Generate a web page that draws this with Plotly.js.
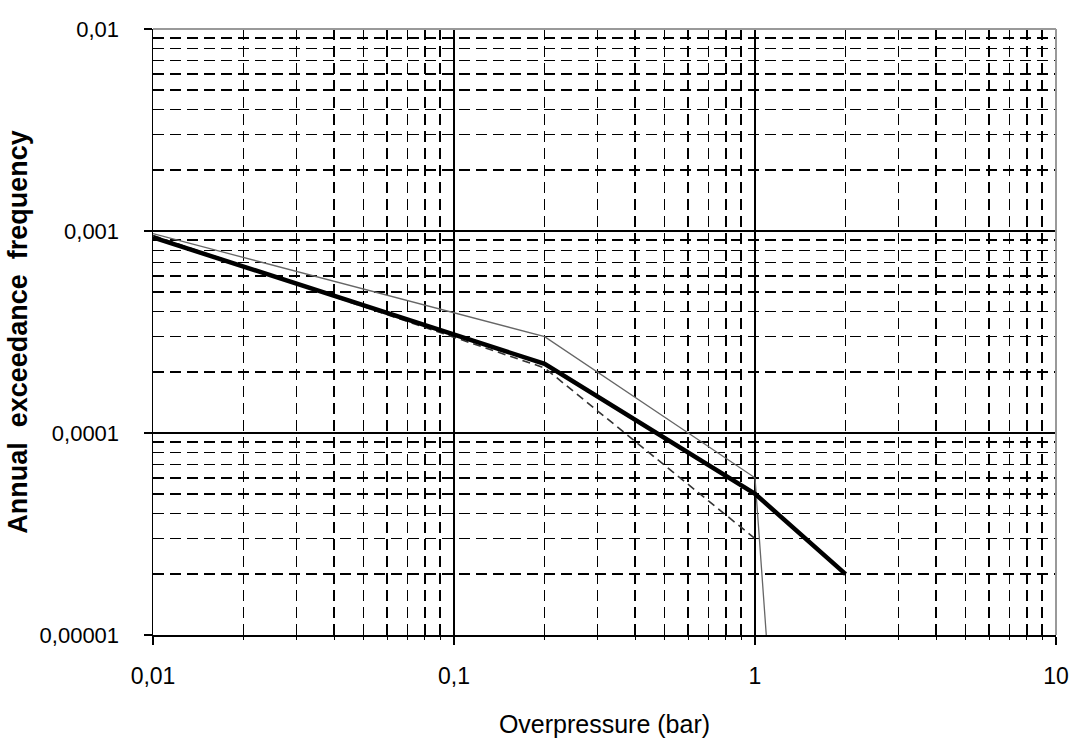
<!DOCTYPE html>
<html>
<head>
<meta charset="utf-8">
<script src="https://cdn.plot.ly/plotly-3.0.1.min.js"></script>
<style>html,body{margin:0;padding:0;background:#fff;}</style>
</head>
<body>
<div id="chart" style="width:1072px;height:738px;"></div>
<script>
// Overpressure (bar) values and annual exceedance frequencies
const xThick = [0.01, 0.2, 1, 2];
const yThick = [0.00093, 0.00022, 0.00005, 0.00002];

const xThin = [0.01, 0.2, 1, 1.09];
const yThin = [0.00097, 0.0003, 0.00006, 0.00001];

const xDash = [0.01, 0.2, 1];
const yDash = [0.00095, 0.00021, 0.00003];

const xTickVals = [0.01, 0.1, 1, 10];
const xTickText = ['0,01', '0,1', '1', '10'];
const yTickVals = [0.00001, 0.0001, 0.001, 0.01];
const yTickText = ['0,00001', '0,0001', '0,001', '0,01'];

const xMinor = [0.02,0.03,0.04,0.05,0.06,0.07,0.08,0.09,0.2,0.3,0.4,0.5,0.6,0.7,0.8,0.9,2,3,4,5,6,7,8,9];
const yMinor = [0.00002,0.00003,0.00004,0.00005,0.00006,0.00007,0.00008,0.00009,0.0002,0.0003,0.0004,0.0005,0.0006,0.0007,0.0008,0.0009,0.002,0.003,0.004,0.005,0.006,0.007,0.008,0.009];

const font = 'Liberation Sans, Arial, sans-serif';
const sp = '\u00A0\u00A0';

const traces = [
  {x: xDash, y: yDash, mode: 'lines', line: {color: '#333', width: 1.6, dash: '8px,5px'}, hoverinfo: 'skip'},
  {x: xThin, y: yThin, mode: 'lines', line: {color: '#666', width: 1.3}, hoverinfo: 'skip'},
  {x: xThick, y: yThick, mode: 'lines', line: {color: '#000', width: 4.5}, hoverinfo: 'skip'}
];

const layout = {
  width: 1072, height: 738,
  margin: {l: 153, r: 16, t: 29, b: 103},
  paper_bgcolor: '#fff', plot_bgcolor: '#fff',
  showlegend: false,
  font: {family: font, color: '#000', size: 22},
  xaxis: {
    type: 'log', range: [-2, 1],
    tickmode: 'array', tickvals: xTickVals, ticktext: xTickText,
    ticks: 'outside', ticklen: 8, tickwidth: 1.5, tickcolor: '#000',
    ticklabelstandoff: 12,
    showline: true, linecolor: '#000', linewidth: 1.5,
    showgrid: true, gridcolor: '#000', gridwidth: 1.5,
    zeroline: false,
    tickfont: {family: font, size: 23, color: '#000'},
    minor: {tickmode: 'array', tickvals: xMinor, showgrid: true, gridcolor: '#000', gridwidth: 1.5, griddash: '11px,6px', ticks: 'outside', ticklen: 3, tickcolor: '#000', tickwidth: 1.2},
    title: {text: 'Overpressure (bar)', font: {family: font, size: 25, color: '#000'}, standoff: 30},
    automargin: false
  },
  yaxis: {
    type: 'log', range: [-5, -2],
    tickmode: 'array', tickvals: yTickVals, ticktext: yTickText,
    ticks: 'outside', ticklen: 8, tickwidth: 1.5, tickcolor: '#000',
    ticklabelstandoff: 20,
    showline: true, linecolor: '#000', linewidth: 1.5,
    showgrid: true, gridcolor: '#000', gridwidth: 1.5,
    zeroline: false,
    tickfont: {family: font, size: 22, color: '#000'},
    minor: {tickmode: 'array', tickvals: yMinor, showgrid: true, gridcolor: '#000', gridwidth: 1.5, griddash: '11px,6px', ticks: '', ticklen: 0},
    title: {text: 'Annual' + sp + 'exceedance' + sp + 'frequency', font: {family: font, size: 27, color: '#000', weight: 'bold'}, standoff: 4},
    automargin: false
  },
  shapes: [
    {type: 'line', xref: 'paper', yref: 'paper', x0: 0, x1: 1, y0: 1, y1: 1, line: {color: '#999', width: 2}, layer: 'above'},
    {type: 'line', xref: 'paper', yref: 'paper', x0: 1, x1: 1, y0: 0, y1: 1, line: {color: '#999', width: 2}, layer: 'above'}
  ]
};

Plotly.newPlot('chart', traces, layout, {displayModeBar: false, staticPlot: true});
</script>
</body>
</html>
